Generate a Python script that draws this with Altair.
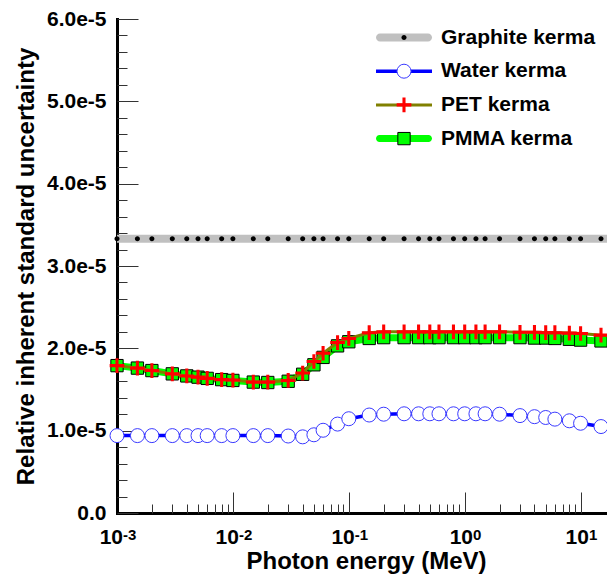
import altair as alt
import pandas as pd

# ---------------- data ----------------
energy_mev = [0.001, 0.0015, 0.002, 0.003, 0.004, 0.005, 0.006, 0.008,
              0.01, 0.015, 0.02, 0.03, 0.04, 0.05, 0.06, 0.08,
              0.1, 0.15, 0.2, 0.3, 0.4, 0.5, 0.6, 0.8,
              1.0, 1.25, 1.5, 2.0, 3.0, 4.0, 5.0, 6.0, 8.0,
              10.0, 15.0, 20.0]

# relative inherent standard uncertainty, in units of 1e-5
graphite = [3.33, 3.33, 3.33, 3.33, 3.33, 3.33, 3.33, 3.33,
            3.33, 3.33, 3.33, 3.33, 3.33, 3.33, 3.33, 3.33,
            3.33, 3.33, 3.33, 3.33, 3.33, 3.33, 3.33, 3.33,
            3.33, 3.33, 3.33, 3.33, 3.33, 3.33, 3.33, 3.33, 3.33,
            3.33, 3.33, 3.33]
water = [0.94, 0.94, 0.94, 0.94, 0.94, 0.94, 0.94, 0.94,
         0.94, 0.94, 0.94, 0.935, 0.925, 0.95, 1.005, 1.08,
         1.145, 1.19, 1.20, 1.205, 1.205, 1.205, 1.205, 1.205,
         1.205, 1.205, 1.205, 1.20, 1.183, 1.17, 1.16, 1.14, 1.12,
         1.09, 1.05, 1.025]
pet = [1.79, 1.76, 1.73, 1.69, 1.665, 1.65, 1.635, 1.62,
       1.615, 1.59, 1.59, 1.61, 1.70, 1.84, 1.94, 2.07,
       2.12, 2.19, 2.20, 2.20, 2.20, 2.20, 2.20, 2.20,
       2.20, 2.20, 2.20, 2.20, 2.195, 2.195, 2.19, 2.19, 2.185,
       2.18, 2.16, 2.15]
pmma = [1.79, 1.76, 1.73, 1.69, 1.665, 1.65, 1.635, 1.62,
        1.61, 1.59, 1.585, 1.60, 1.685, 1.80, 1.89, 2.03,
        2.08, 2.12, 2.13, 2.13, 2.13, 2.13, 2.13, 2.13,
        2.13, 2.13, 2.13, 2.13, 2.13, 2.125, 2.125, 2.12, 2.11,
        2.10, 2.09, 2.08]

series_names = ["Graphite kerma", "Water kerma", "PET kerma", "PMMA kerma"]
series_values = [graphite, water, pet, pmma]

x_major = [0.001, 0.01, 0.1, 1, 10]
x_minor = [m * d for d in [0.001, 0.01, 0.1, 1] for m in range(2, 10)]
y_major = [0, 1, 2, 3, 4, 5, 6]
y_minor = [round(0.2 * i, 1) for i in range(1, 30) if i % 5 != 0]

rows = []
for name, vals in zip(series_names, series_values):
    for e, v in zip(energy_mev, vals):
        rows.append({"energy": e, "u": v, "series": name})
df = pd.DataFrame(rows)

# ---------------- styles ----------------
FONT = "Liberation Sans"
K = 0.5523


def circle_path(r):
    k = K * r
    return (f"M{r},0C{r},{k} {k},{r} 0,{r}C{-k},{r} {-r},{k} {-r},0"
            f"C{-r},{-k} {-k},{-r} 0,{-r}C{k},{-r} {r},{-k} {r},0Z")


def bar_path(half_len, r, rounded):
    if not rounded:
        return f"M{-half_len},{-r}H{half_len}V{r}H{-half_len}Z"
    a = half_len - r
    k = K * r
    return (f"M{-a},{-r}H{a}C{a + k},{-r} {half_len},{-k} {half_len},0"
            f"C{half_len},{k} {a + k},{r} {a},{r}H{-a}"
            f"C{-a - k},{r} {-half_len},{k} {-half_len},0"
            f"C{-half_len},{-k} {-a - k},{-r} {-a},{-r}Z")


DOT = circle_path(0.36)
PLUS = "M-0.22,-1.05H0.22V-0.22H1.05V0.22H0.22V1.05H-0.22V0.22H-1.05V-0.22H-0.22Z"
SQUARE = "M-0.88,-0.88H0.88V0.88H-0.88Z"

line_colors = ["#c0c0c0", "#0000ff", "#808000", "#00ff00"]
line_widths = [8, 3.5, 3, 7]
line_round = [True, False, False, True]
marker_shapes = [DOT, "circle", PLUS, SQUARE]
marker_fill = ["#000000", "#ffffff", "#ff0000", "#00ff00"]
marker_stroke = ["transparent", "#3a3aff", "transparent", "#000000"]

# legend bar symbols (symbol size 484 -> unit = 11 px)
bar_paths = [bar_path(2.545, w / 2 / 11, rd) for w, rd in zip(line_widths, line_round)]

style = {n: dict(lc=lc, lw=lw, sh=sh, fi=fi, st=st)
         for n, lc, lw, sh, fi, st in zip(series_names, line_colors, line_widths,
                                          marker_shapes, marker_fill, marker_stroke)}

# plot area 490 px wide = 4.228 decades at ~115.9 px per decade
xscale = alt.Scale(type="log", domain=[0.001, 16.9], nice=False)
yscale = alt.Scale(domain=[0, 6], nice=False, zero=False)

label_off = {"condition": {"test": "datum.value < 0.5", "value": 5.5}, "value": 7.8}

x_main = alt.Axis(orient="bottom", values=x_major, labelExpr="'10'", labelAlign="right",
                  labelOffset=label_off, labelBaseline="alphabetic", labelPadding=30,
                  labelFont=FONT, labelFontSize=21, labelFontWeight="bold",
                  labelColor="black", ticks=False, domainColor="black",
                  domainWidth=3, domainCap="square", grid=False,
                  labelFlush=False, labelOverlap=False,
                  title="Photon energy (MeV)", titleFont=FONT, titleFontSize=24,
                  titleFontWeight="bold", titleColor="black", titleY=55.5,
                  titleX=249, titleBaseline="alphabetic")
x_ticks = alt.Axis(orient="bottom", values=x_major,
                   labelExpr="'' + round(log(datum.value) / LN10)",
                   labelAlign="left", labelOffset=label_off,
                   labelBaseline="alphabetic", labelPadding=26, labelFont=FONT,
                   labelFontSize=15, labelFontWeight="bold", labelColor="black",
                   tickSize=21, tickColor="#333333", tickWidth=1, offset=-21,
                   domain=False, grid=False, labelFlush=False, labelOverlap=False,
                   title=None)
x_minor_ax = alt.Axis(orient="bottom", values=x_minor, labels=False, tickSize=9,
                      offset=-9, tickColor="#333333", tickWidth=1, domain=False,
                      grid=False, title=None)
y_main = alt.Axis(orient="left", values=y_major,
                  labelExpr="datum.value == 0 ? '0.0' : format(datum.value, '.1f') + 'e-5'",
                  labelPadding=11, labelFont=FONT, labelFontSize=21,
                  labelFontWeight="bold", labelColor="black", ticks=False,
                  domainColor="black", domainWidth=3, domainCap="square", grid=False,
                  labelFlush=False, labelOverlap=False,
                  title="Relative inherent standard uncertainty", titleFont=FONT,
                  titleFontSize=24, titleFontWeight="bold", titleColor="black",
                  titleX=-84, titleY=247, titleBaseline="alphabetic")
y_ticks = alt.Axis(orient="left", values=y_major, labels=False, tickSize=21,
                   offset=-21, tickColor="#333333", tickWidth=1, domain=False,
                   grid=False, title=None)
y_minor_ax = alt.Axis(orient="left", values=y_minor, labels=False, tickSize=10,
                      offset=-10, tickColor="#333333", tickWidth=1, domain=False,
                      grid=False, title=None)

base = alt.Chart(df)


def X(axis):
    return alt.X("energy:Q", scale=xscale, axis=axis)


def Y(axis):
    return alt.Y("u:Q", scale=yscale, axis=axis)


bar_legend = alt.Legend(title=None, orient="none", legendX=259, legendY=7.5,
                        padding=0, rowPadding=11.7, clipHeight=22, symbolSize=484,
                        symbolOffset=17, symbolStrokeWidth=0, symbolOpacity=1,
                        labelFont=FONT, labelFontSize=21, labelFontWeight="bold",
                        labelColor="black", labelOffset=26, labelLimit=400, zindex=1)
marker_legend = alt.Legend(title=None, orient="none", legendX=276.5, legendY=7.5,
                           padding=0, rowPadding=11.7, clipHeight=22, symbolSize=196,
                           symbolStrokeWidth=1, symbolOpacity=1, labelFont=FONT,
                           labelFontSize=21, labelFontWeight="bold", labelOpacity=0,
                           labelOffset=26, labelLimit=400, zindex=2)

bar_layer = base.transform_filter("false").mark_point(filled=True, opacity=1).encode(
    x=X(None), y=Y(None),
    shape=alt.Shape("series:N", scale=alt.Scale(domain=series_names, range=bar_paths),
                    legend=bar_legend),
    fill=alt.Fill("series:N", scale=alt.Scale(domain=series_names, range=line_colors),
                  legend=bar_legend),
)
marker_layer = base.transform_filter("false").mark_point(filled=True, opacity=1).encode(
    x=X(None), y=Y(None),
    shape=alt.Shape("series:N", scale=alt.Scale(domain=series_names, range=marker_shapes),
                    legend=marker_legend),
    fill=alt.Fill("series:N", scale=alt.Scale(domain=series_names, range=marker_fill),
                  legend=marker_legend),
    stroke=alt.Stroke("series:N", scale=alt.Scale(domain=series_names, range=marker_stroke),
                      legend=marker_legend),
)

draw_order = ["Graphite kerma", "Water kerma", "PMMA kerma", "PET kerma"]
axes_for = {
    ("Graphite kerma", "line"): (x_main, y_main),
    ("Graphite kerma", "pts"): (x_ticks, y_ticks),
    ("Water kerma", "line"): (x_minor_ax, y_minor_ax),
}

layers = [bar_layer, marker_layer]
for name in draw_order:
    s = style[name]
    sub = base.transform_filter(alt.datum.series == name)
    ax, ay = axes_for.get((name, "line"), (None, None))
    layers.append(sub.mark_line(color=s["lc"], strokeWidth=s["lw"],
                                strokeJoin="round").encode(x=X(ax), y=Y(ay)))
    ax, ay = axes_for.get((name, "pts"), (None, None))
    layers.append(sub.mark_point(shape=s["sh"], size=196, fill=s["fi"],
                                 stroke=s["st"], strokeWidth=1, opacity=1,
                                 filled=True).encode(x=X(ax), y=Y(ay)))

chart = alt.layer(*layers).resolve_scale(
    shape="independent", fill="independent", stroke="independent"
).resolve_axis(
    x="independent", y="independent"
).properties(
    width=490, height=494,
    padding={"left": 109, "top": 11, "right": 0, "bottom": 61},
    autosize=alt.AutoSizeParams(type="none"),
).configure_view(stroke="transparent")

chart.save("out.html", embed_options={"renderer": "svg", "actions": False})
